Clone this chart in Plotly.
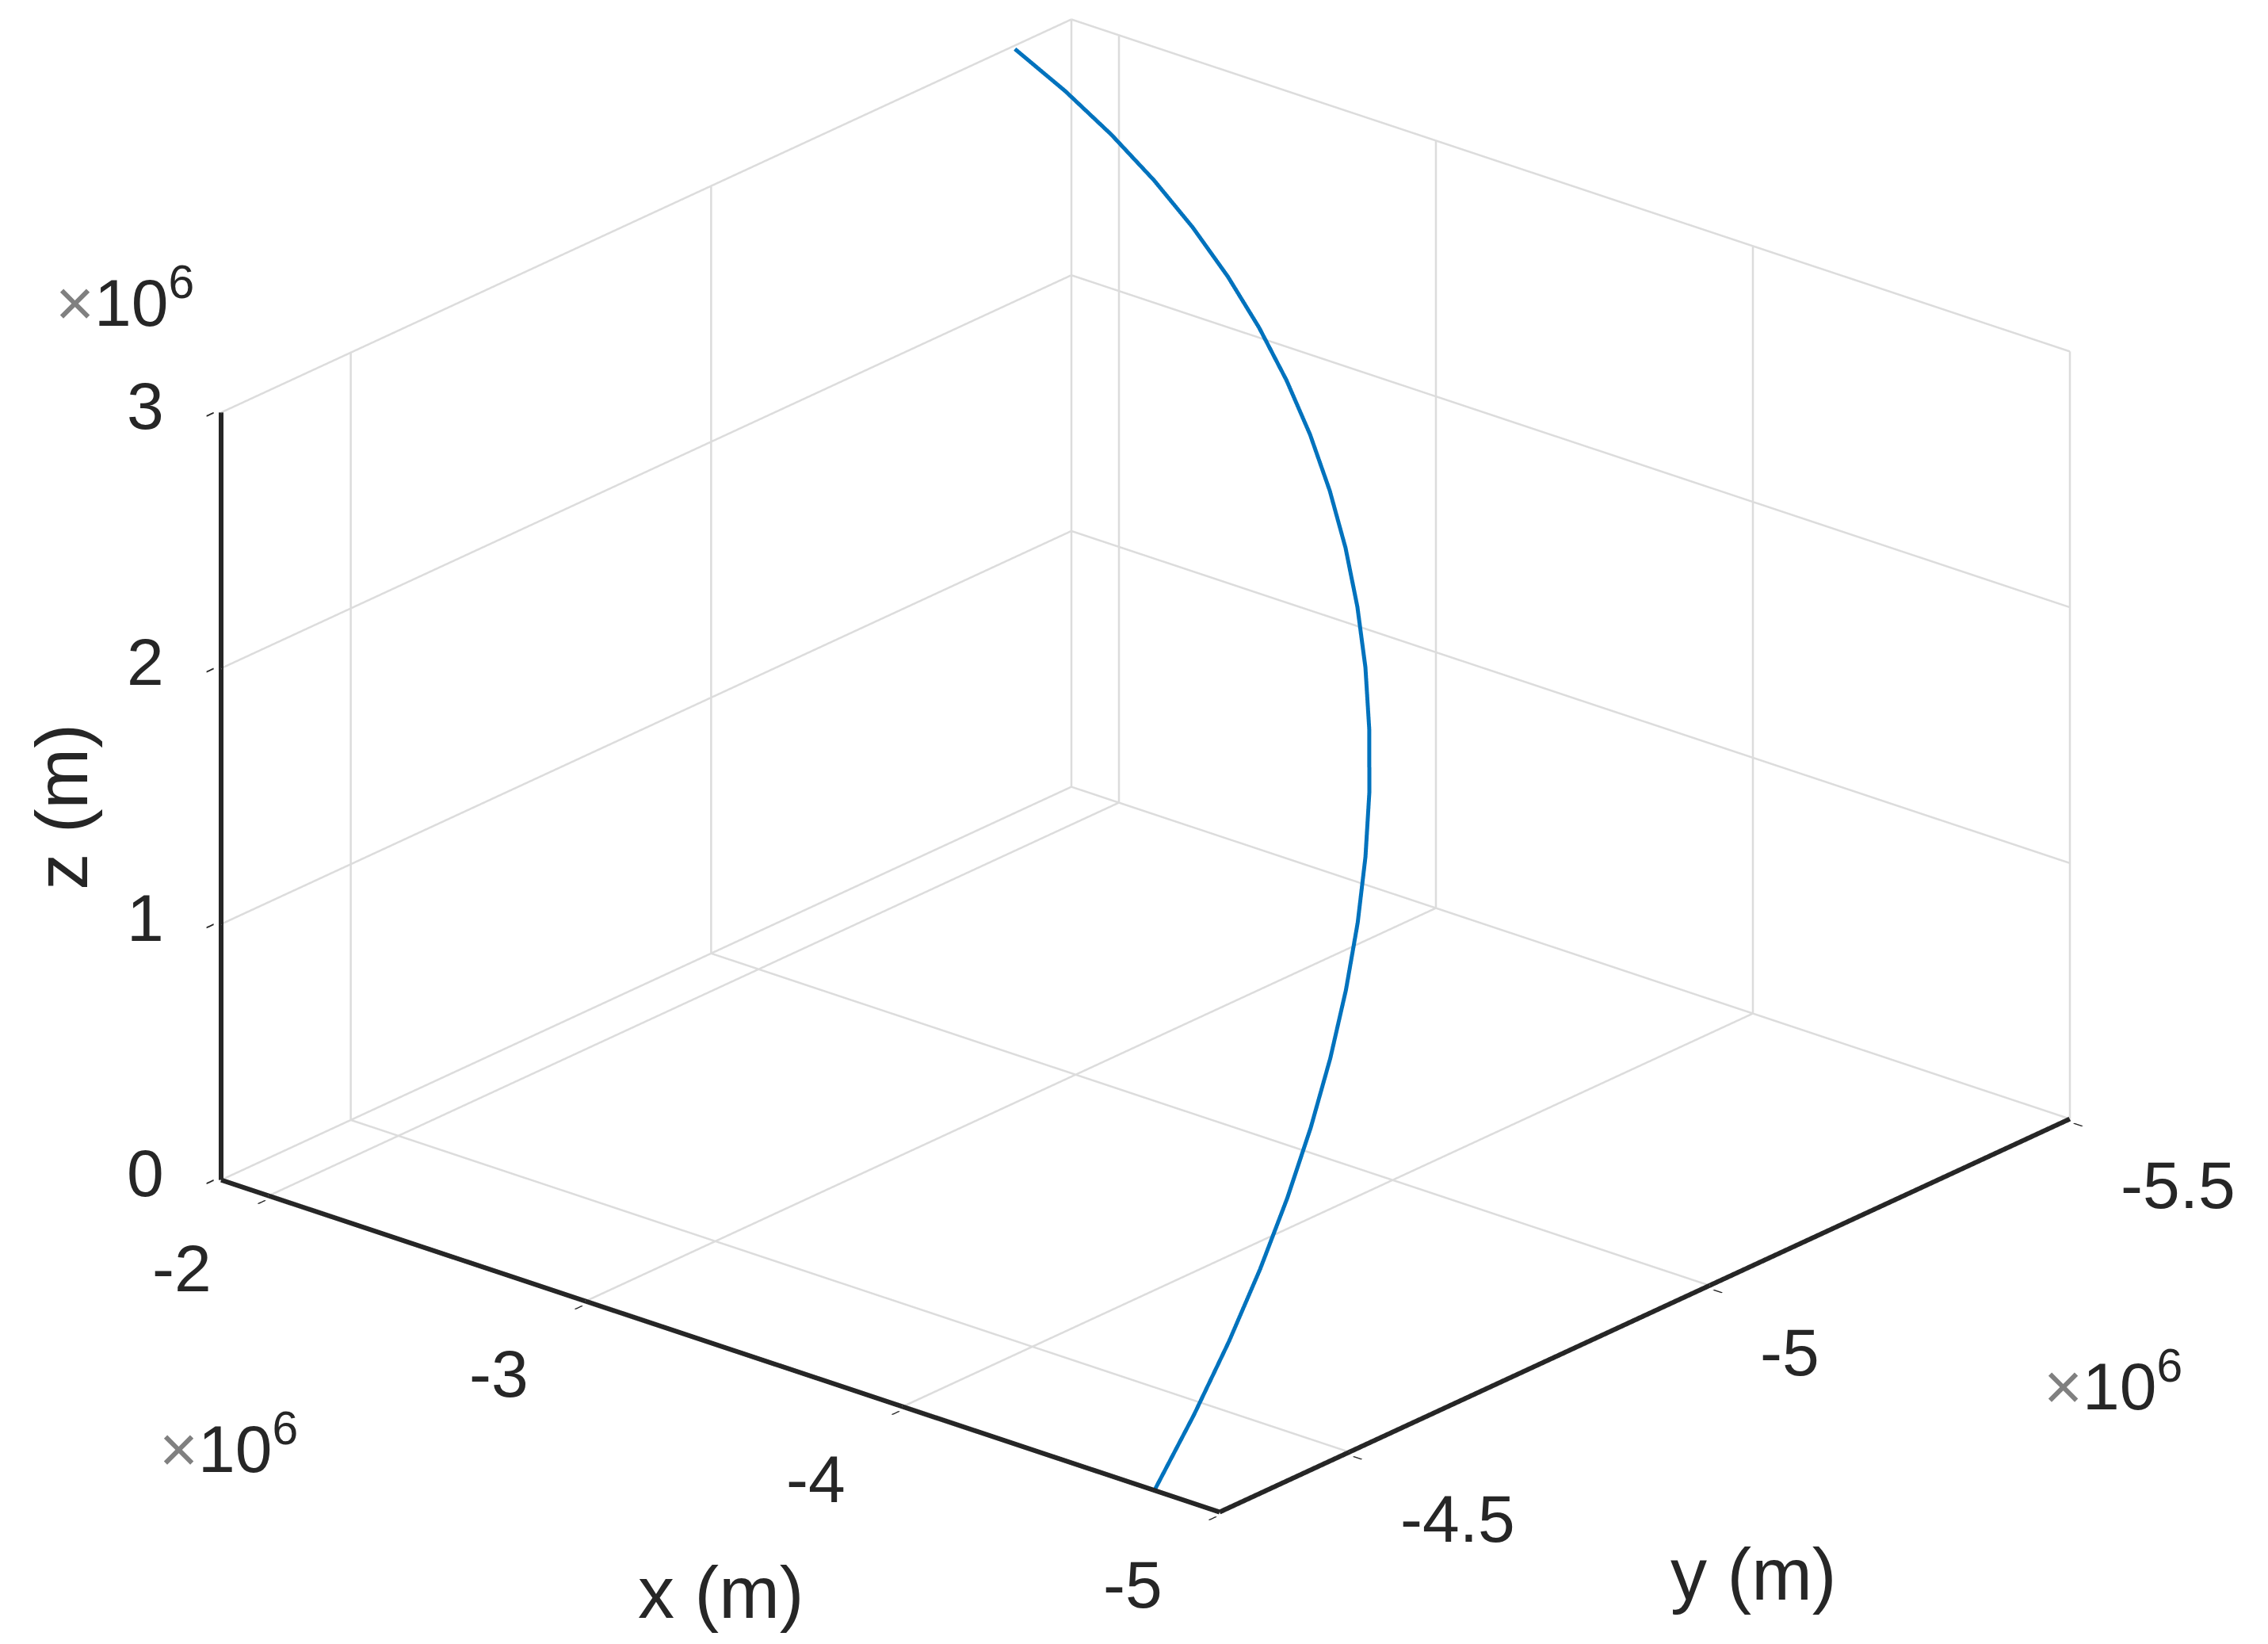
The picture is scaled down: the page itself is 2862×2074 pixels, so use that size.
import plotly.graph_objects as go

# Trajectory points (metres)
x_m = [-4.790e6, -4.7046e6, -4.6155e6, -4.5226e6, -4.4260e6, -4.3258e6, -4.2222e6,
       -4.1151e6, -4.0046e6, -3.8909e6, -3.7741e6, -3.6542e6, -3.5314e6, -3.4056e6,
       -3.2771e6, -3.1459e6, -3.0122e6, -2.8760e6, -2.7375e6, -2.5968e6, -2.4541e6,
       -2.3092e6, -2.1625e6, -2.0141e6, -1.864e6]
y_m = [-4.323e6, -4.4143e6, -4.5020e6, -4.5861e6, -4.6665e6, -4.7431e6, -4.8158e6,
       -4.8846e6, -4.9495e6, -5.0103e6, -5.0671e6, -5.1197e6, -5.1684e6, -5.2126e6,
       -5.2527e6, -5.2884e6, -5.3200e6, -5.3472e6, -5.3701e6, -5.3887e6, -5.4028e6,
       -5.4125e6, -5.4179e6, -5.4189e6, -5.4155e6]
z_m = [0.0, 0.1353e6, 0.2705e6, 0.4054e6, 0.5400e6, 0.6742e6, 0.8078e6,
       0.9408e6, 1.0731e6, 1.2044e6, 1.3348e6, 1.4640e6, 1.5922e6, 1.7189e6,
       1.8443e6, 1.9682e6, 2.0905e6, 2.2112e6, 2.3300e6, 2.4469e6, 2.5619e6,
       2.6748e6, 2.7855e6, 2.8939e6, 3.000e6]

# Axis ticks
x_ticks = [-5e6, -4e6, -3e6, -2e6]
x_ticktext = ["-5", "-4", "-3", "-2"]
y_ticks = [-5.5e6, -5e6, -4.5e6]
y_ticktext = ["-5.5", "-5", "-4.5"]
z_ticks = [0, 1e6, 2e6, 3e6]
z_ticktext = ["0", "1", "2", "3"]

x_range = [-5e6, -1.85e6]
y_range = [-5.5e6, -4.32e6]
z_range = [0, 3e6]

x_title, y_title, z_title = "x (m)", "y (m)", "z (m)"
exp_text = "<span style='color:#808080'>×</span>10<sup>6</sup>"

FONT = "Liberation Sans, Arial, Helvetica, sans-serif"
TXT = "#262626"
GRID = "#dcdcdc"
TICK_SIZE = 84
TITLE_SIZE = 92

fig = go.Figure()

# grid lines on the back walls and floor (MATLAB style), built from the tick lists
gx, gy, gz = [], [], []
def seg(p, q):
    gx.extend([p[0], q[0], None]); gy.extend([p[1], q[1], None]); gz.extend([p[2], q[2], None])
for v in x_ticks:
    if v != x_range[0]:
        seg((v, y_range[0], z_range[0]), (v, y_range[1], z_range[0]))   # floor
    seg((v, y_range[0], z_range[0]), (v, y_range[0], z_range[1]))       # back wall (y min)
for v in y_ticks:
    seg((x_range[0], v, z_range[0]), (x_range[1], v, z_range[0]))       # floor
    seg((x_range[1], v, z_range[0]), (x_range[1], v, z_range[1]))       # back wall (x max)
for v in z_ticks:
    seg((x_range[0], y_range[0], v), (x_range[1], y_range[0], v))
    seg((x_range[1], y_range[0], v), (x_range[1], y_range[1], v))
fig.add_trace(go.Scatter3d(x=gx, y=gy, z=gz, mode="lines",
                           line=dict(color=GRID, width=5),
                           showlegend=False, hoverinfo="skip"))

# axis lines
axx = [x_range[0], x_range[1], None, x_range[0], x_range[0], None, x_range[1], x_range[1]]
axy = [y_range[1], y_range[1], None, y_range[1], y_range[0], None, y_range[1], y_range[1]]
axz = [z_range[0], z_range[0], None, z_range[0], z_range[0], None, z_range[0], z_range[1]]
fig.add_trace(go.Scatter3d(x=axx, y=axy, z=axz, mode="lines",
                           line=dict(color=TXT, width=12),
                           showlegend=False, hoverinfo="skip"))

fig.add_trace(go.Scatter3d(x=x_m, y=y_m, z=z_m, mode="lines",
                           line=dict(color="#0072BD", width=10),
                           showlegend=False, hoverinfo="skip"))

PAD = 0.004  # small margin so edge lines are not clipped by the scene box

def ax(rng, tv):
    span = rng[1] - rng[0]
    return dict(
        title=dict(text=""),
        range=[rng[0] - PAD * span, rng[1] + PAD * span], autorange=False,
        tickvals=tv, showticklabels=False,
        showgrid=False,
        showline=False,
        ticks="outside", ticklen=14, tickwidth=4, tickcolor=TXT,
        zeroline=False, showbackground=False, showspikes=False,
    )

xmid = sum(x_range) / 2
ymid = sum(y_range) / 2
zmid = sum(z_range) / 2
x_front_y = y_range[1]
y_front_x = x_range[0]
z_axis_x, z_axis_y = x_range[1], y_range[1]

ann = []
tickfont = dict(family=FONT, size=TICK_SIZE, color=TXT)
for v, t in zip(x_ticks, x_ticktext):
    ann.append(dict(x=v, y=x_front_y, z=z_range[0], text=t, showarrow=False,
                    xanchor="center", yanchor="middle", xshift=-110, yshift=-92,
                    font=tickfont))
for v, t in zip(y_ticks, y_ticktext):
    ann.append(dict(x=y_front_x, y=v, z=z_range[0], text=t, showarrow=False,
                    xanchor="left", yanchor="middle", xshift=62, yshift=-84,
                    font=tickfont))
for v, t in zip(z_ticks, z_ticktext):
    ann.append(dict(x=z_axis_x, y=z_axis_y, z=v, text=t, showarrow=False,
                    xanchor="right", yanchor="middle", xshift=-70, yshift=8,
                    font=tickfont))

titlefont = dict(family=FONT, size=TITLE_SIZE, color=TXT)
ann.append(dict(x=xmid, y=x_front_y, z=z_range[0], text=x_title, showarrow=False,
                xanchor="center", yanchor="middle", xshift=0, yshift=-311, font=titlefont))
ann.append(dict(x=y_front_x, y=ymid, z=z_range[0], text=y_title, showarrow=False,
                xanchor="center", yanchor="middle", xshift=137, yshift=-327, font=titlefont))
ann.append(dict(x=z_axis_x, y=z_axis_y, z=zmid, text=z_title, showarrow=False,
                xanchor="center", yanchor="middle", xshift=-201, yshift=-14,
                textangle=-90, font=titlefont))

expfont = dict(family=FONT, size=TICK_SIZE, color=TXT)
ann.append(dict(x=z_axis_x, y=z_axis_y, z=z_ticks[-1], text=exp_text, showarrow=False,
                xanchor="center", yanchor="middle", xshift=-122, yshift=144, font=expfont))
ann.append(dict(x=x_ticks[-1], y=x_front_y, z=z_range[0], text=exp_text, showarrow=False,
                xanchor="center", yanchor="middle", xshift=-51, yshift=-314, font=expfont))
ann.append(dict(x=y_front_x, y=y_ticks[0], z=z_range[0], text=exp_text, showarrow=False,
                xanchor="center", yanchor="middle", xshift=55, yshift=-332, font=expfont))

D = 1.2
e = (-0.59505, 0.70159, 0.39204)
S = 1.7384

fig.update_layout(
    width=2862, height=2074,
    paper_bgcolor="white",
    margin=dict(l=0, r=0, t=0, b=0),
    scene=dict(
        domain=dict(x=[0.0078, 0.9968], y=[0.0763, 1.0]),
        xaxis=ax(x_range, x_ticks),
        yaxis=ax(y_range, y_ticks),
        zaxis=ax(z_range, z_ticks),
        aspectmode="manual",
        aspectratio=dict(x=1.0 * S, y=1.004 * S, z=0.637 * S),
        camera=dict(eye=dict(x=e[0] * D, y=e[1] * D, z=e[2] * D),
                    up=dict(x=0, y=0, z=1), center=dict(x=0, y=0, z=0),
                    projection=dict(type="orthographic")),
        bgcolor="white",
        annotations=ann,
    ),
)

fig.write_html("out.html")
